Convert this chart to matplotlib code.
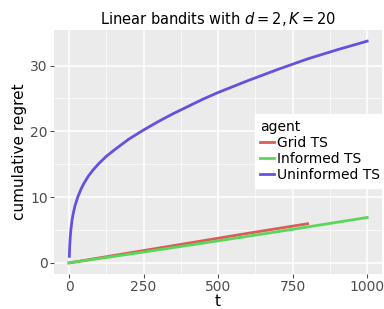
import matplotlib
matplotlib.use("Agg")
import matplotlib.pyplot as plt
import numpy as np

# cumulative regret
t_uninf = [1, 2, 4, 6, 10, 15, 20, 30, 40, 50, 65, 80, 100, 125, 150, 200, 250, 300, 350,
           400, 450, 500, 600, 700, 800, 900, 1000]
r_uninf = [1.0, 2.3, 3.9, 5.0, 6.5, 7.7, 8.7, 10.1, 11.2, 12.1, 13.2, 14.1, 15.1, 16.2,
           17.1, 18.8, 20.2, 21.5, 22.7, 23.8, 24.9, 25.9, 27.7, 29.4, 31.0, 32.4, 33.7]
t_grid = [0, 200, 400, 600, 800]
r_grid = [0.0, 1.5, 3.0, 4.5, 5.95]
t_inf = [0, 250, 500, 750, 1000]
r_inf = [0.0, 1.65, 3.35, 5.1, 6.9]

agents = ["Grid TS", "Informed TS", "Uninformed TS"]
colors = ["#DB5C55", "#5AD65A", "#6550E0"]

fig = plt.figure(figsize=(3.84, 3.09), dpi=100)
ax = fig.add_axes([0.141, 0.113, 0.854, 0.79])
ax.set_facecolor("#EBEBEB")

ax.plot(t_grid, r_grid, color=colors[0], lw=2, label=agents[0])
ax.plot(t_inf, r_inf, color=colors[1], lw=2, label=agents[1])
ax.plot(t_uninf, r_uninf, color=colors[2], lw=2, label=agents[2])

ax.set_xlim(-50, 1050)
ax.set_ylim(-1.7, 35.4)
ax.set_xticks([0, 250, 500, 750, 1000])
ax.set_yticks([0, 10, 20, 30])
ax.set_xticks([125, 375, 625, 875], minor=True)
ax.set_yticks([5, 15, 25], minor=True)
ax.grid(which="major", color="white", lw=1.1)
ax.grid(which="minor", color="white", lw=0.5)
ax.set_axisbelow(True)
for s in ax.spines.values():
    s.set_visible(False)
ax.tick_params(which="major", length=3, pad=1.5, color="#4D4D4D", labelcolor="#4D4D4D", labelsize=10)
ax.tick_params(which="minor", length=0)

ax.set_xlabel("t", fontsize=11, labelpad=0)
ax.set_ylabel("cumulative regret", fontsize=11, labelpad=2)
ax.set_title("Linear bandits with $d = 2, K = 20$", fontsize=10.5, pad=4)

leg = ax.legend(title="agent", loc="upper left", bbox_to_anchor=(0.612, 0.655),
                frameon=True, fontsize=10, title_fontsize=10, handlelength=1.0,
                handletextpad=0.2, labelspacing=0.15, borderpad=0.4, borderaxespad=0)
leg._legend_box.align = "left"
leg.get_frame().set_facecolor("white")
leg.get_frame().set_edgecolor("white")
leg.get_frame().set_alpha(1)
leg.get_frame().set_boxstyle("square", pad=0)

fig.savefig("out.png", dpi=100)
